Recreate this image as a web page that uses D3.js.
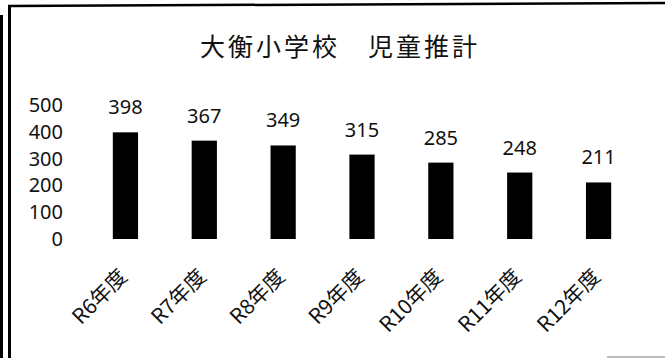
<!DOCTYPE html>
<html>
<head>
<meta charset="utf-8">
<script src="https://cdn.jsdelivr.net/npm/d3@7"></script>
<style>
  body { margin: 0; background: #fff; }
  svg { display: block; }
  .num { font-family: "Noto Sans", "Noto Sans CJK JP", sans-serif; font-size: 20px; fill: #111; }
  .cat { font-family: "Noto Sans CJK JP", sans-serif; font-size: 21px; fill: #111; }
  .title { font-family: "Noto Sans CJK JP", sans-serif; font-size: 25px; fill: #111; letter-spacing: 3px; }
</style>
</head>
<body>
<div id="chart"></div>
<script>
// chart values
var TITLE = '大衡小学校　児童推計';
var CATEGORIES = ['R6年度', 'R7年度', 'R8年度', 'R9年度', 'R10年度', 'R11年度', 'R12年度'];
var STUDENTS = [398, 367, 349, 315, 285, 248, 211];
var Y_TICKS = [0, 100, 200, 300, 400, 500];

var W = 665, H = 358;

var svg = d3.select('#chart')
  .append('svg')
    .attr('width', W)
    .attr('height', H);

// scanned frame lines
svg.append('line')
  .attr('x1', 1.5).attr('y1', 15).attr('x2', 1.5).attr('y2', H)
  .attr('stroke', '#000').attr('stroke-width', 3);
svg.append('line')
  .attr('x1', 9.5).attr('y1', 6).attr('x2', 9.5).attr('y2', H)
  .attr('stroke', '#000').attr('stroke-width', 3);
svg.append('line')
  .attr('x1', 8).attr('y1', 6).attr('x2', W).attr('y2', 3)
  .attr('stroke', '#000').attr('stroke-width', 2.5);
svg.append('line')
  .attr('x1', 607).attr('y1', 357).attr('x2', W).attr('y2', 357)
  .attr('stroke', '#bbb').attr('stroke-width', 2);

// scales
var x = d3.scaleBand()
  .domain(CATEGORIES)
  .range([86, 638])
  .paddingInner(0.68)
  .paddingOuter(0.34);

var y = d3.scaleLinear()
  .domain([0, 500])
  .range([239, 105]);

// title
svg.append('text')
  .attr('class', 'title')
  .attr('x', 340)
  .attr('y', 56)
  .attr('text-anchor', 'middle')
  .text(TITLE);

// y axis (labels only)
var yAxis = svg.append('g')
  .attr('transform', 'translate(68,0)')
  .call(d3.axisLeft(y).tickValues(Y_TICKS).tickSize(0).tickPadding(5));
yAxis.select('.domain').remove();
yAxis.selectAll('text')
  .attr('class', 'num')
  .attr('fill', null);
yAxis.attr('font-family', null).attr('font-size', null);

// bars
svg.selectAll('rect.bar')
  .data(STUDENTS)
  .enter().append('rect')
    .attr('class', 'bar')
    .attr('x', function(d, i) { return x(CATEGORIES[i]); })
    .attr('width', x.bandwidth())
    .attr('y', function(d) { return y(d); })
    .attr('height', function(d) { return y(0) - y(d); })
    .attr('fill', '#000');

// value labels
svg.selectAll('text.val')
  .data(STUDENTS)
  .enter().append('text')
    .attr('class', 'num val')
    .attr('x', function(d, i) { return x(CATEGORIES[i]) + x.bandwidth() / 2; })
    .attr('y', function(d) { return y(d) - 18; })
    .attr('text-anchor', 'middle')
    .text(function(d) { return d; });

// category labels, rotated
svg.selectAll('text.cat')
  .data(CATEGORIES)
  .enter().append('text')
    .attr('class', 'cat')
    .attr('text-anchor', 'end')
    .attr('transform', function(d) {
      return 'translate(' + (x(d) + x.bandwidth() / 2 + 3) + ',278) rotate(-45)';
    })
    .text(function(d) { return d; });
</script>
</body>
</html>
